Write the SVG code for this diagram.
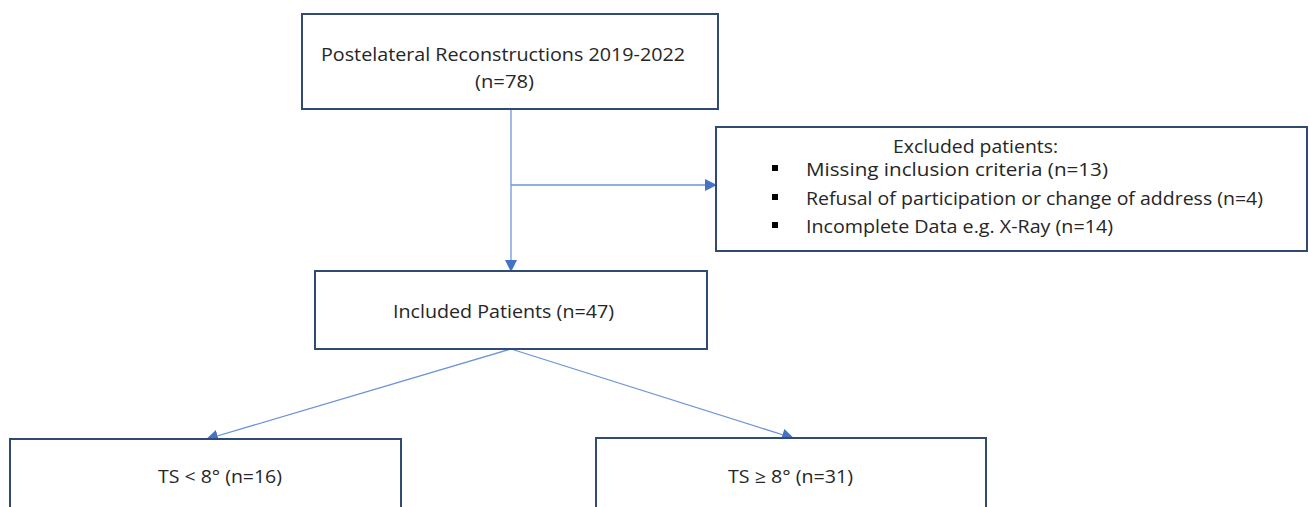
<svg xmlns="http://www.w3.org/2000/svg" width="1309" height="507" viewBox="0 0 1309 507">
<style>
.box{fill:#fff;stroke:#2f4a73;stroke-width:2}
.t{font-family:"Open Sans","Liberation Sans",sans-serif;font-size:18px;fill:#262626}
.c{stroke:#6f95d8;stroke-width:1.3;fill:none}
</style>
<defs>
<marker id="ah" markerWidth="12" markerHeight="12" refX="11" refY="6" orient="auto" markerUnits="userSpaceOnUse">
<path d="M0,0 L12,6 L0,12 Z" fill="#4472c4"/>
</marker>
</defs>
<rect width="1309" height="507" fill="#fff"/>
<g id="connectors">
<line class="c" x1="511" y1="109" x2="511" y2="271" marker-end="url(#ah)"/>
<line class="c" x1="511" y1="185" x2="716" y2="185" marker-end="url(#ah)"/>
<line class="c" x1="511" y1="349" x2="207" y2="439" marker-end="url(#ah)"/>
<line class="c" x1="511" y1="349" x2="793" y2="438" marker-end="url(#ah)"/>
</g>
<g id="n1">
<rect class="box" x="302" y="14" width="416" height="95"/>
<text class="t" x="321" y="61" textLength="364" lengthAdjust="spacingAndGlyphs">Postelateral Reconstructions 2019-2022</text>
<text class="t" x="475" y="88" textLength="59" lengthAdjust="spacingAndGlyphs">(n=78)</text>
</g>
<g id="n2">
<rect class="box" x="716" y="127" width="591" height="124"/>
<text class="t" x="893" y="153" textLength="165" lengthAdjust="spacingAndGlyphs">Excluded patients:</text>
<rect x="772" y="165" width="6" height="6" fill="#000"/>
<rect x="772" y="194" width="6" height="6" fill="#000"/>
<rect x="772" y="222" width="6" height="6" fill="#000"/>
<text class="t" x="806" y="176" textLength="302" lengthAdjust="spacingAndGlyphs">Missing inclusion criteria (n=13)</text>
<text class="t" x="806" y="205" textLength="457" lengthAdjust="spacingAndGlyphs">Refusal of participation or change of address (n=4)</text>
<text class="t" x="806" y="233" textLength="307" lengthAdjust="spacingAndGlyphs">Incomplete Data e.g. X-Ray (n=14)</text>
</g>
<g id="n3">
<rect class="box" x="315" y="271" width="392" height="78"/>
<text class="t" x="393" y="318" textLength="221" lengthAdjust="spacingAndGlyphs">Included Patients (n=47)</text>
</g>
<g id="n4">
<rect class="box" x="10" y="439" width="391" height="80"/>
<text class="t" x="158" y="483" textLength="124" lengthAdjust="spacingAndGlyphs">TS &lt; 8° (n=16)</text>
</g>
<g id="n5">
<rect class="box" x="596" y="438" width="390" height="80"/>
<text class="t" x="728" y="483" textLength="125" lengthAdjust="spacingAndGlyphs">TS ≥ 8° (n=31)</text>
</g>
</svg>
